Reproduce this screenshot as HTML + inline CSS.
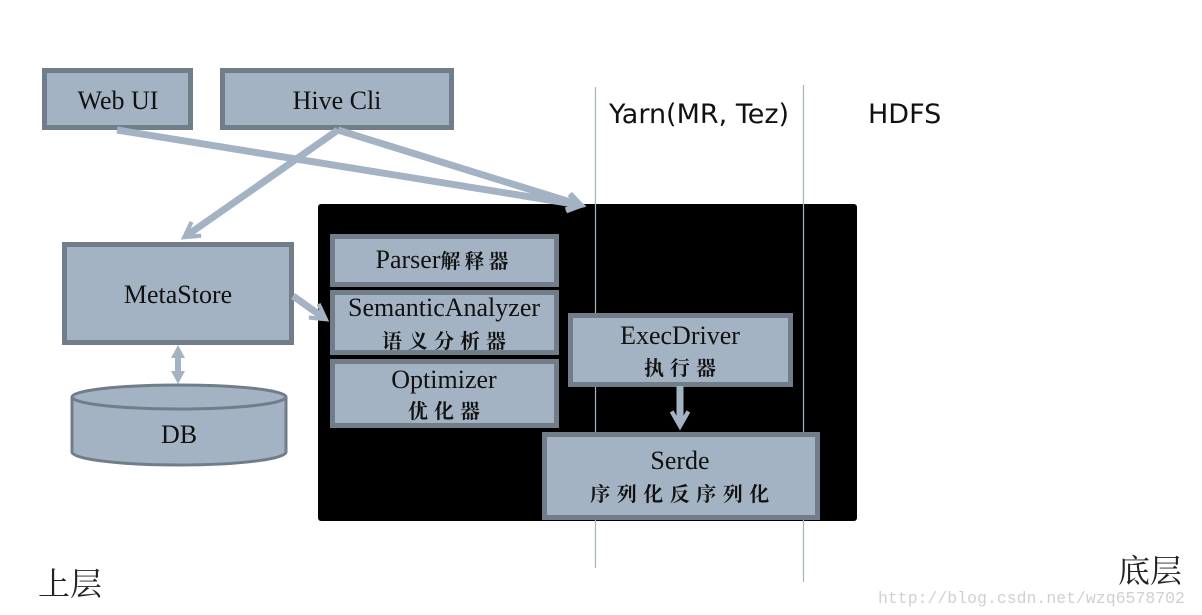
<!DOCTYPE html>
<html><head><meta charset="utf-8"><style>
html,body{margin:0;padding:0;background:#fff;}
svg{display:block}
.s{font-family:"Liberation Serif","Noto Serif CJK SC",serif;fill:#111;text-anchor:middle}
.y{font-family:"DejaVu Sans","Liberation Sans",sans-serif;fill:#111}
.c{font-family:"Noto Serif CJK SC",serif;font-weight:bold}
</style></head><body>
<svg width="1202" height="615" viewBox="0 0 1202 615" xmlns="http://www.w3.org/2000/svg">
<defs>
<marker id="ah" viewBox="0 0 10 10" refX="7" refY="5" markerWidth="3" markerHeight="3" orient="auto" markerUnits="strokeWidth">
<path d="M1,1 L8,5 L1,9" fill="none" stroke="#a4b3c4" stroke-width="2"/>
</marker>
</defs>
<rect x="318" y="204" width="539" height="317" rx="3" fill="#000"/>
<line x1="595.5" y1="87" x2="595.5" y2="568" stroke="#a8b4c0" stroke-width="1.2"/>
<line x1="803.5" y1="85" x2="803.5" y2="582" stroke="#a8b4c0" stroke-width="1.2"/>
<g fill="#a4b3c4" stroke="#717d89" stroke-width="5">
<rect x="44.5" y="70.5" width="146" height="57"/>
<rect x="222.5" y="70.5" width="229" height="57"/>
<rect x="64.5" y="244.5" width="227" height="98"/>
<rect x="332.5" y="236.5" width="224" height="48"/>
<rect x="332.5" y="292.5" width="224" height="60"/>
<rect x="332.5" y="361.5" width="224" height="64"/>
<rect x="570.5" y="315.5" width="220" height="69"/>
<rect x="544.5" y="434.5" width="273" height="83"/>
</g>
<path d="M72,397 L72,452 A107,13 0 0 0 286,452 L286,397" fill="#a4b3c4" stroke="#717d89" stroke-width="3"/>
<ellipse cx="179" cy="397" rx="107" ry="12" fill="#a4b3c4" stroke="#717d89" stroke-width="3"/>
<g stroke="#a4b3c4" stroke-width="7" fill="none">
<line x1="117" y1="130" x2="580" y2="205" marker-end="url(#ah)"/>
<line x1="338" y1="130" x2="580" y2="205" marker-end="url(#ah)"/>
<line x1="338" y1="130" x2="186" y2="236" marker-end="url(#ah)"/>
<line x1="293" y1="296" x2="324" y2="318" marker-end="url(#ah)"/>
<line x1="680" y1="386" x2="680" y2="424" marker-end="url(#ah)"/>
</g>
<path d="M178,345 L171,358 L175,358 L175,371 L171,371 L178,384 L185,371 L181,371 L181,358 L185,358 Z" fill="#a4b3c4"/>
<g class="s" font-size="26">
<text x="118" y="109">Web UI</text>
<text x="337" y="109">Hive Cli</text>
<text x="178" y="303">MetaStore</text>
<text x="179" y="443">DB</text>
<text x="444" y="268">Parser<tspan class="c" font-size="20" letter-spacing="4">解释器</tspan></text>
<text x="444" y="316">SemanticAnalyzer</text>
<text x="447" y="348" class="s c" font-size="20" letter-spacing="6">语义分析器</text>
<text x="444" y="388">Optimizer</text>
<text x="447" y="418" class="s c" font-size="20" letter-spacing="6">优化器</text>
<text x="680" y="344">ExecDriver</text>
<text x="683" y="375" class="s c" font-size="20" letter-spacing="6">执行器</text>
<text x="680" y="469">Serde</text>
<text x="683" y="501" class="s c" font-size="20" letter-spacing="6.5">序列化反序列化</text>
</g>
<text class="y" x="609" y="123" font-size="27">Yarn(MR, Tez)</text>
<text class="y" x="868" y="123" font-size="27">HDFS</text>
<text x="38" y="595" font-size="32" font-family="'Noto Serif CJK SC',serif" fill="#222">上层</text>
<text x="1118" y="582" font-size="32" font-family="'Noto Serif CJK SC',serif" fill="#222">底层</text>
<text x="878" y="603" font-size="16.5" font-family="'Liberation Mono',monospace" fill="#d0d0cc">http://blog.csdn.net/wzq6578702</text>
</svg>
</body></html>
